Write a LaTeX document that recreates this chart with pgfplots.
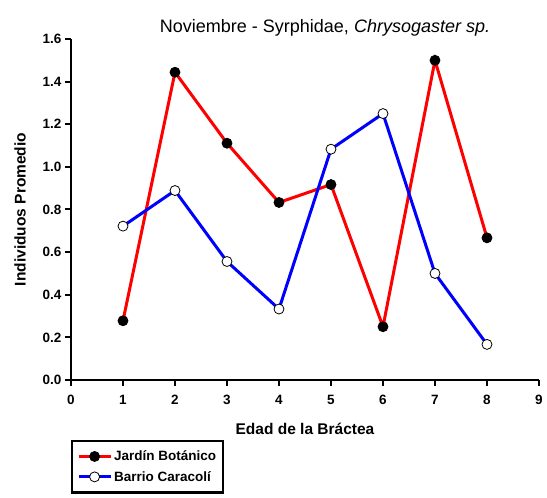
\documentclass[border=0pt]{standalone}
\usepackage{pgfplots}
\pgfplotsset{compat=1.18}
\usepackage{fontspec}
\setmainfont{Liberation Sans}
\begin{document}
\begin{tikzpicture}[x=1pt,y=1pt]
\useasboundingbox (-71,-118) rectangle (476,380);
\begin{axis}[
  scale only axis, width=468pt, height=341pt,
  xmin=0, xmax=9, ymin=0, ymax=1.6,
  axis lines=left, axis line style={-, line width=2.4pt},
  tick align=outside, major tick length=6pt,
  tick style={line width=2pt, black},
  xtick={0,1,...,9}, ytick={0,0.2,...,1.6},
  /pgf/number format/assume math mode=true,
  yticklabel style={/pgf/number format/.cd, fixed, fixed zerofill, precision=1},
  ticklabel style={font=\fontsize{13.5}{15}\selectfont\bfseries},
  xticklabel style={yshift=-6pt},
  xlabel={Edad de la Bráctea}, ylabel={Individuos Promedio},
  label style={font=\fontsize{15.5}{18}\selectfont\bfseries},
  xlabel style={yshift=-11pt},
  ylabel style={yshift=10pt},
  title={Noviembre - Syrphidae, \textit{Chrysogaster sp.}},
  title style={font=\fontsize{18}{21}\selectfont, xshift=20pt, yshift=-7pt},
  legend style={at={(0,-0.175)}, anchor=north west, draw=black, line width=2.2pt,
    font=\fontsize{13.5}{16}\selectfont\bfseries, row sep=5pt, inner xsep=5pt,inner ysep=8pt,
    cells={anchor=west}},
  legend image code/.code={
    \draw[mark repeat=2,mark phase=2] plot coordinates {(0pt,0pt) (16pt,0pt) (32pt,0pt)};},
  legend cell align=left,
]
\addplot[red, line width=3pt, mark=*, mark size=5pt, mark options={fill=black, draw=black, line width=0.8pt}]
coordinates {(1,0.278) (2,1.444) (3,1.111) (4,0.833) (5,0.917) (6,0.25) (7,1.5) (8,0.667)};
\addlegendentry{\textcolor{black}{Jardín Botánico}}
\addplot[blue, line width=3pt, mark=*, mark size=5pt, mark options={fill=white, draw=black, line width=0.8pt}]
coordinates {(1,0.722) (2,0.889) (3,0.556) (4,0.333) (5,1.083) (6,1.25) (7,0.5) (8,0.167)};
\addlegendentry{\textcolor{black}{Barrio Caracolí}}
\end{axis}
\end{tikzpicture}
\end{document}
